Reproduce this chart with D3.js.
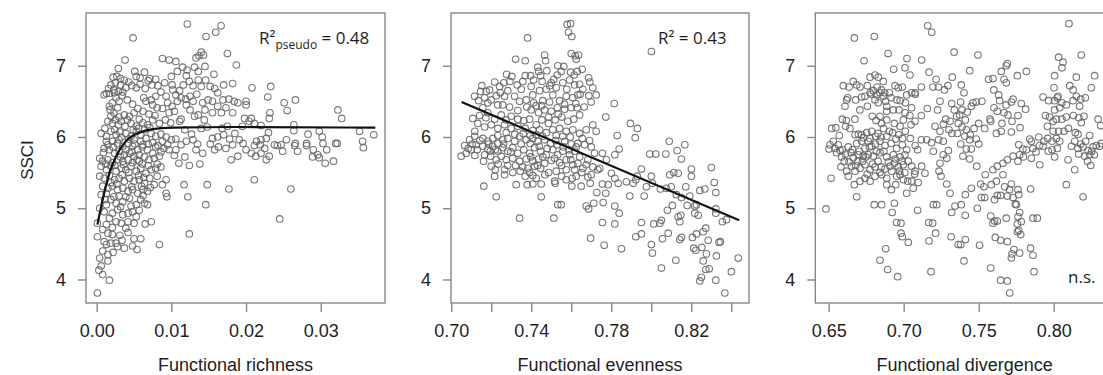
<!DOCTYPE html>
<html><head><meta charset="utf-8">
<script src="https://cdn.jsdelivr.net/npm/d3@7"></script>
<style>body{margin:0;background:#fff;} svg{display:block;}</style>
</head><body><svg id="c" width="1103" height="375"></svg>
<script>
// ---------- DATA ----------
const yTicks = [4, 5, 6, 7];
const yLabel = "SSCI";
const richTicks = [0.00, 0.01, 0.02, 0.03];
const richLabels = [0.00, 0.01, 0.02, 0.03];
const evenTicks = [0.70, 0.72, 0.74, 0.76, 0.78, 0.80, 0.82, 0.84];
const evenLabels = [0.70, 0.74, 0.78, 0.82];
const divTicks = [0.65, 0.70, 0.75, 0.80];
const divLabels = [0.65, 0.70, 0.75, 0.80];
const titles = ["Functional richness", "Functional evenness", "Functional divergence"];

const richFitX = [0.0001, 0.0008, 0.0017, 0.0026, 0.0039, 0.0057, 0.0075, 0.0102, 0.0187, 0.0373];
const richFitY = [4.77, 5.12, 5.49, 5.73, 5.94, 6.06, 6.11, 6.13, 6.14, 6.13];
const evenFitX = [0.7052, 0.844];
const evenFitY = [6.49, 4.83];

const richPts = [
[0.01214,7.585],[0.01665,7.56],[0.01594,7.47],[0.01464,7.41],[0.00487,7.39],
[0.0140,7.19],[0.0137,7.14],[0.0143,7.15],[0.0133,7.11],[0.0175,7.17],
[0.0038,7.08],[0.0088,7.10],[0.0097,7.08],[0.0106,7.06],
[0.0115,6.98],[0.0121,6.94],[0.0131,6.98],[0.0145,6.99],[0.0157,6.88],[0.0187,7.01],
[0.0029,6.96],[0.0022,6.84],[0.0027,6.85],[0.0032,6.82],[0.0037,6.80],[0.0043,6.77],[0.0051,6.92],[0.0053,6.85],[0.0058,6.83],[0.0064,6.91],[0.0071,6.82],[0.0079,6.81],[0.0082,6.72],[0.0074,6.73],[0.0058,6.74],[0.0053,6.69],[0.0047,6.72],[0.0039,6.69],[0.0032,6.73],[0.0025,6.76],[0.0019,6.73],[0.0013,6.61],[0.001,6.59],[0.0017,6.61],[0.0024,6.62],[0.0029,6.64],[0.0035,6.63],[0.01,6.85],[0.0101,6.73],[0.0111,6.65],[0.012,6.86],[0.0116,6.73],[0.0124,6.78],[0.0129,6.72],[0.0136,6.8],[0.014,6.71],[0.0146,6.8],[0.0152,6.71],[0.0158,6.68],[0.017,6.73],[0.0182,6.75],[0.0091,6.76],[0.0086,6.63],[0.0106,6.59],
[0.0026,6.55],[0.003,6.5],[0.0021,6.48],[0.0017,6.43],[0.0028,6.41],[0.0023,6.34],[0.0019,6.29],[0.003,6.28],[0.0037,6.31],[0.0044,6.29],[0.005,6.34],[0.0057,6.25],[0.0063,6.55],[0.0066,6.5],[0.0073,6.52],[0.0079,6.57],[0.0075,6.45],[0.0081,6.41],[0.0088,6.4],[0.0095,6.48],[0.0101,6.43],[0.0104,6.36],[0.0108,6.5],[0.0113,6.55],[0.0119,6.53],[0.0125,6.57],[0.0129,6.5],[0.012,6.45],[0.0125,6.38],[0.0131,6.29],[0.0136,6.31],[0.0142,6.48],[0.0149,6.52],[0.0155,6.5],[0.0162,6.43],[0.0169,6.52],[0.0177,6.53],[0.0184,6.5],[0.0167,6.34],[0.0173,6.41],[0.0155,6.34],[0.0144,6.24],[0.0092,6.24],[0.0084,6.19],[0.0075,6.24],[0.0068,6.17],[0.0062,6.2],[0.0053,6.15],[0.0046,6.19],[0.0038,6.15],[0.0029,6.17],[0.0021,6.19],[0.0015,6.22],[0.0097,6.34],[0.0113,6.25],[0.0182,6.34],[0.0175,6.15],
[0.0006,6.05],[0.0013,6.01],[0.0019,6.08],[0.0026,6.03],[0.0033,6.0],[0.0039,6.05],[0.0046,6.01],[0.0053,6.08],[0.0059,6.03],[0.0066,5.98],[0.0073,6.05],[0.0079,6.01],[0.0086,6.04],[0.0093,6.0],[0.01,5.96],[0.0106,5.97],[0.0113,5.89],[0.012,5.94],[0.0129,5.96],[0.0135,5.9],[0.014,6.12],[0.0155,5.98],[0.0162,6.0],[0.017,6.03],[0.0178,5.97],[0.0158,5.82],[0.0173,5.84],[0.0182,5.89],[0.0133,5.82],[0.0142,5.77],[0.0106,5.82],[0.0097,5.82],[0.009,5.84],[0.0082,5.88],[0.0075,5.77],[0.0068,5.82],[0.0062,5.89],[0.0055,5.82],[0.0048,5.87],[0.0042,5.91],[0.0035,5.87],[0.0028,5.91],[0.0021,5.94],[0.0015,5.89],[0.001,5.84],[0.0017,5.82],[0.0024,5.77],[0.003,5.8],[0.0037,5.75],[0.0044,5.77],[0.005,5.73],[0.0057,5.75],[0.0064,5.72],[0.007,5.68],[0.0077,5.7],[0.0084,5.73],[0.0004,5.7],[0.0008,5.66],[0.0015,5.68],[0.0021,5.64],[0.0028,5.68],[0.0035,5.66],[0.0042,5.68],[0.0048,5.64],[0.011,5.63],[0.0124,5.6],[0.0138,5.62],[0.018,5.68],[0.0013,5.94],[0.003,5.96],[0.005,5.96],[0.0059,5.94],[0.0075,5.92],[0.0088,5.94],[0.0095,5.89],[0.0039,5.82],[0.0057,5.66],
[0.0006,5.59],[0.0013,5.54],[0.0019,5.59],[0.0026,5.52],[0.0033,5.56],[0.0039,5.54],[0.0046,5.59],[0.0053,5.52],[0.0059,5.56],[0.0066,5.49],[0.0073,5.54],[0.0079,5.56],[0.0086,5.58],[0.0004,5.45],[0.001,5.42],[0.0017,5.46],[0.0024,5.4],[0.003,5.42],[0.0037,5.38],[0.0044,5.42],[0.005,5.38],[0.0057,5.4],[0.0064,5.35],[0.0071,5.42],[0.0077,5.33],[0.0088,5.33],[0.0093,5.4],[0.0117,5.33],[0.0148,5.33],[0.0177,5.27],[0.0008,5.31],[0.0015,5.28],[0.0021,5.31],[0.0028,5.26],[0.0035,5.28],[0.0042,5.24],[0.0048,5.26],[0.0055,5.21],[0.0062,5.26],[0.0068,5.24],[0.0093,5.21],[0.0094,5.16],[0.0122,5.16],[0.0006,5.19],[0.0013,5.21],[0.003,5.17],[0.0039,5.16],
[0.0019,5.12],[0.0026,5.07],[0.0013,5.05],[0.0035,5.09],[0.0044,5.14],[0.0053,5.05],[0.0059,5.12],[0.0064,5.07],[0.0068,5.05],[0.0146,5.05],[0.0004,5.0],[0.001,4.95],[0.0021,4.93],[0.0028,4.98],[0.0035,4.91],[0.0042,4.93],[0.0048,4.95],[0.0053,4.88],[0.0017,4.86],[0.0026,4.81],[0.0033,4.79],[0.0042,4.81],[0.005,4.79],[0.0065,4.78],[0.0073,4.81],[0.0013,4.77],[0.0001,4.79],[0.0008,4.7],
[0.0015,4.65],[0.0001,4.6],[0.0021,4.63],[0.001,4.53],[0.0019,4.51],[0.0028,4.46],[0.0026,4.51],[0.0042,4.66],[0.005,4.57],[0.0059,4.57],[0.0037,4.44],[0.0048,4.47],[0.0054,4.42],[0.0084,4.49],[0.0124,4.64],[0.0004,4.3],[0.0015,4.26],[0.0006,4.19],[0.0003,4.13],[0.0008,4.07],[0.0017,3.99],[0.0015,4.35],[0.0001,3.81],[0.0013,4.49],
[0.0208,6.69],[0.0233,6.71],[0.0229,6.56],[0.02,6.5],[0.02,6.45],[0.0189,6.48],[0.0251,6.48],[0.0266,6.52],[0.0255,6.37],[0.0232,6.34],[0.0231,6.26],[0.0323,6.38],[0.0328,6.26],[0.0198,6.26],[0.0207,6.26],[0.0204,6.22],[0.0211,6.19],[0.022,6.16],[0.0195,6.15],[0.0264,6.17],[0.0264,6.09],[0.023,6.06],[0.0283,6.04],[0.0298,6.08],[0.0302,6.0],[0.0303,5.91],[0.0352,6.08],[0.0356,5.94],[0.0357,5.85],[0.0371,6.03],[0.0191,5.96],[0.0214,5.94],[0.022,5.96],[0.0227,5.98],[0.0211,5.88],[0.0219,5.89],[0.0225,5.84],[0.02,5.82],[0.0207,5.77],[0.0213,5.73],[0.022,5.77],[0.0227,5.68],[0.0231,5.73],[0.0238,5.89],[0.0242,5.88],[0.0247,5.89],[0.0249,5.8],[0.0254,5.96],[0.0266,5.91],[0.0269,5.8],[0.0265,5.88],[0.0281,5.91],[0.0281,5.88],[0.029,5.82],[0.0289,5.72],[0.0296,5.75],[0.0298,5.71],[0.0306,5.63],[0.0308,5.82],[0.0317,5.66],[0.032,5.91],[0.0322,5.91],[0.0211,5.4],[0.026,5.27],[0.0245,4.85],[0.0189,5.73],[0.0196,5.91],
[0.0016,6.68],[0.0023,6.66],[0.0034,6.58],[0.0041,6.52],[0.0048,6.46],[0.0055,6.4],[0.0062,6.36],[0.007,6.32],[0.0078,6.3],[0.0018,6.38],[0.0025,6.24],[0.0033,6.22],[0.0041,6.24],[0.0049,6.1],[0.0056,6.12],[0.0064,6.1],[0.0071,6.13],[0.0024,6.1],[0.0011,6.12],[0.0031,6.07],[0.0043,5.97],[0.0051,5.9],[0.0061,5.86],[0.0069,5.9],[0.0079,5.86],[0.0086,5.79],[0.0009,5.78],[0.0022,5.86],[0.0032,5.72],[0.0047,5.79],[0.0054,5.68],[0.0061,5.62],[0.0069,5.6],[0.0081,5.62],[0.0012,5.62],[0.0024,5.6],[0.0036,5.61],[0.0043,5.5],[0.0056,5.46],[0.0063,5.43],[0.0081,5.45],[0.0019,5.36],[0.0027,5.34],[0.0034,5.47],[0.0047,5.3],[0.006,5.31],[0.0072,5.29],[0.0011,5.12],[0.0023,5.16],[0.0032,5.02],[0.0046,5.03],[0.0057,4.97],[0.0062,5.18],[0.0021,4.73],[0.0031,4.62],[0.0039,4.72],[0.0008,4.4],[0.0022,4.38],[0.0034,4.55],[0.0111,6.22],[0.0118,6.1],[0.0127,6.04],[0.0148,6.14],[0.0152,5.9],[0.0163,5.86],[0.0168,6.12],[0.0185,6.05],[0.0104,5.74],[0.0118,5.72],[0.0102,6.66],[0.0134,6.6],[0.0162,6.62],[0.0145,6.38],[0.0108,6.92],[0.0136,6.92],[0.0065,6.68],[0.0069,6.79],[0.0093,6.57],[0.0099,6.2]
];

const evenPts = [
[0.758,7.58],[0.7597,7.59],[0.7587,7.47],[0.7603,7.41],[0.7382,7.39],
[0.76,7.17],[0.762,7.14],[0.7637,7.15],[0.7625,7.09],[0.7467,7.15],[0.7472,7.07],[0.7322,7.09],[0.737,7.07],[0.7433,6.98],[0.7437,6.92],[0.7447,6.86],[0.7533,7.0],[0.7563,6.99],[0.755,6.92],[0.753,6.87],[0.7597,6.91],[0.763,6.92],[0.7655,6.95],[0.7687,6.83],[0.7693,6.77],[0.7708,6.69],[0.7725,6.59],[0.77,6.49],
[0.7303,6.85],[0.7293,6.78],[0.7263,6.76],[0.7242,6.71],[0.7217,6.77],[0.7192,6.66],[0.7153,6.72],[0.7175,6.64],[0.7147,6.64],[0.7117,6.57],[0.7137,6.51],[0.7167,6.55],[0.72,6.52],[0.7233,6.45],[0.7267,6.57],[0.7283,6.65],[0.733,6.73],[0.7358,6.78],[0.737,6.86],[0.7397,6.86],[0.74,6.71],[0.735,6.67],[0.7317,6.57],[0.7342,6.5],[0.7375,6.52],[0.7408,6.59],[0.7442,6.65],[0.7475,6.67],[0.75,6.76],[0.7525,6.69],[0.7558,6.76],[0.7592,6.8],[0.7617,6.73],[0.7642,6.74],[0.7658,6.67],[0.7633,6.59],[0.7608,6.55],[0.7575,6.57],[0.7542,6.51],[0.7508,6.59],[0.7492,6.49],[0.7458,6.51],[0.7425,6.44],[0.74,6.38],[0.7437,6.34],[0.7467,6.38],[0.75,6.36],[0.753,6.41],[0.7567,6.39],[0.76,6.41],[0.763,6.41],[0.7642,6.31],[0.7613,6.25],[0.7583,6.22],[0.7553,6.28],[0.752,6.24],[0.7487,6.19],[0.7453,6.24],[0.7425,6.17],[0.7392,6.25],[0.7363,6.23],[0.7333,6.25],[0.73,6.29],[0.7275,6.24],[0.725,6.31],[0.7217,6.25],[0.7183,6.34],[0.7158,6.41],[0.7133,6.19],[0.7167,6.14],[0.72,6.17],[0.7233,6.12],[0.7267,6.17],[0.73,6.12],[0.7333,6.15],[0.737,6.12],[0.7408,6.09],[0.7442,6.1],[0.7475,6.06],[0.7508,6.1],[0.7542,6.12],[0.7575,6.08],[0.7608,6.1],[0.7642,6.05],[0.7675,6.1],[0.7708,6.17],[0.7725,6.08],
[0.7092,5.96],[0.7117,6.01],[0.7067,5.88],[0.705,5.73],[0.7075,5.77],[0.71,5.82],[0.713,5.82],[0.7125,5.89],[0.7158,5.98],[0.7183,5.94],[0.7208,5.98],[0.7233,5.91],[0.7258,5.96],[0.7283,5.98],[0.7317,5.94],[0.7342,6.01],[0.7375,5.96],[0.7408,5.98],[0.7433,5.94],[0.7467,5.96],[0.7497,5.91],[0.753,5.89],[0.7567,5.94],[0.76,5.9],[0.7633,5.91],[0.7667,5.89],[0.77,5.86],[0.7717,5.77],[0.7158,5.87],[0.7183,5.83],[0.7208,5.87],[0.7233,5.8],[0.7258,5.85],[0.7283,5.8],[0.7308,5.85],[0.7333,5.77],[0.7363,5.82],[0.7392,5.77],[0.7417,5.85],[0.7447,5.8],[0.7475,5.75],[0.7508,5.82],[0.7533,5.75],[0.7558,5.8],[0.7592,5.75],[0.7617,5.8],[0.7642,5.72],[0.7683,5.68],[0.7167,5.75],[0.7197,5.73],[0.7225,5.68],[0.725,5.73],[0.7275,5.68],[0.7308,5.7],[0.7342,5.66],[0.7375,5.69],[0.7408,5.66],[0.7437,5.69],[0.7467,5.63],[0.75,5.67],[0.7542,5.64],[0.7575,5.68],[0.7608,5.61],[0.7633,5.63],[0.7675,5.61],[0.7708,5.58],[0.7733,5.54],[0.72,5.59],[0.722,5.54],[0.7267,5.54],[0.7308,5.5],[0.7383,5.56],[0.7417,5.59],[0.7447,5.56],[0.7487,5.5],[0.7525,5.52],[0.7575,5.54],[0.7617,5.54],[0.7653,5.5],[0.7217,5.45],[0.7267,5.47],[0.737,5.45],[0.7408,5.46],[0.7425,5.42],[0.7517,5.38],[0.7575,5.4],[0.7625,5.45],[0.7683,5.44],[0.77,5.47],[0.7163,5.31],[0.7325,5.33],[0.738,5.33],[0.7408,5.34],[0.745,5.34],[0.752,5.35],[0.7603,5.31],[0.765,5.31],[0.7225,5.16],[0.745,5.16],[0.7533,5.05],[0.755,5.05],[0.7675,5.03],[0.7687,4.99],[0.7713,5.07],[0.7342,4.86],[0.7513,4.86],[0.7697,4.58],
[0.8001,7.2],[0.7815,6.47],[0.7773,6.28],[0.7896,6.19],[0.7931,6.12],[0.792,5.99],[0.783,6.02],[0.784,5.83],[0.7818,5.75],[0.7756,5.77],[0.7776,5.68],[0.7993,5.76],[0.8023,5.76],[0.8073,5.76],[0.809,5.94],[0.813,5.81],[0.8168,5.89],[0.8151,5.69],[0.7951,5.55],[0.7801,5.49],[0.7818,5.42],[0.7743,5.56],[0.7756,5.34],[0.7785,5.33],[0.7773,5.21],[0.7835,5.35],[0.7876,5.37],[0.791,5.35],[0.7923,5.4],[0.7893,5.17],[0.7965,5.17],[0.793,5.45],[0.8001,5.45],[0.8006,5.35],[0.7976,5.3],[0.8046,5.27],[0.8076,5.28],[0.81,5.3],[0.8126,5.19],[0.8151,5.15],[0.8135,5.49],[0.8093,5.47],[0.8113,5.5],[0.8201,5.55],[0.8201,5.45],[0.8173,5.3],[0.8193,5.17],[0.8226,5.05],[0.8243,5.25],[0.8268,5.27],[0.8301,5.57],[0.8315,5.36],[0.8323,5.22],[0.776,5.08],[0.7818,5.03],[0.784,4.93],[0.7756,4.8],[0.7818,4.78],[0.7951,4.8],[0.8013,4.78],[0.8051,4.83],[0.8043,4.79],[0.8081,4.97],[0.8135,4.88],[0.8143,4.81],[0.8106,5.04],[0.8148,4.9],[0.818,5.04],[0.8218,5.03],[0.8218,4.93],[0.8235,4.9],[0.8323,4.93],[0.8356,4.81],[0.8376,4.84],[0.8323,4.99],[0.7923,4.6],[0.7951,4.64],[0.8001,4.49],[0.8006,4.37],[0.8056,4.57],[0.8085,4.65],[0.8143,4.56],[0.8151,4.59],[0.8206,4.59],[0.8226,4.64],[0.826,4.67],[0.8273,4.72],[0.8285,4.55],[0.8223,4.41],[0.8213,4.44],[0.8253,4.45],[0.8276,4.36],[0.826,4.26],[0.8273,4.14],[0.829,4.15],[0.8243,3.98],[0.8251,4.03],[0.8326,4.33],[0.8339,4.52],[0.8346,4.53],[0.7851,4.43],[0.7765,4.48],[0.8123,4.27],[0.8051,4.16],[0.8323,3.99],[0.8401,4.11],[0.8435,4.3],[0.8368,3.81],
[0.7105,5.9],[0.7143,5.95],[0.7188,5.9],[0.722,5.82],[0.7262,5.9],[0.7298,5.79],[0.735,5.9],[0.7395,5.91],[0.744,5.87],[0.748,5.84],[0.7522,5.95],[0.756,5.86],[0.759,5.82],[0.7625,5.86],[0.7118,5.74],[0.7162,5.66],[0.7195,5.8],[0.7235,5.62],[0.7282,5.6],[0.7322,5.6],[0.7358,5.58],[0.7398,5.72],[0.7432,5.6],[0.7458,5.72],[0.7517,5.7],[0.7552,5.6],[0.7598,5.68],[0.7658,5.56],[0.7233,6.02],[0.7275,6.06],[0.7318,6.04],[0.736,6.05],[0.7395,6.02],[0.7425,6.03],[0.7457,6.01],[0.7525,6.02],[0.7558,6.01],[0.7595,6.0],[0.7655,5.98],[0.7692,5.95],[0.7183,6.48],[0.7225,6.58],[0.7258,6.45],[0.7292,6.42],[0.7333,6.37],[0.7378,6.42],[0.7412,6.48],[0.7452,6.44],[0.7487,6.28],[0.7535,6.32],[0.7567,6.46],[0.7623,6.47],[0.7665,6.42],[0.7645,6.6],[0.7688,6.58],[0.7578,6.67],[0.7493,6.72],[0.7455,6.78],[0.7412,6.8],[0.7277,6.88],[0.7245,6.62],[0.7173,6.27],[0.7142,6.3],[0.7108,6.26],[0.7118,6.08],[0.7085,5.84],[0.7392,5.5],[0.7345,5.52],[0.7468,5.47],[0.7552,5.45],[0.7605,5.42],[0.7695,5.35],[0.7728,5.22],[0.7478,6.93],[0.7513,6.81],[0.7615,6.87]
];

const divPts = [
[0.716,7.56],[0.7187,7.47],[0.6671,7.39],[0.6804,7.41],[0.7336,7.19],[0.6896,7.17],[0.6736,7.07],[0.7022,7.1],[0.712,7.08],[0.6933,6.95],[0.7009,6.97],[0.7042,6.87],[0.7169,6.91],[0.7324,6.84],[0.7216,6.81],[0.6776,6.84],[0.6809,6.87],[0.6831,6.84],[0.6864,6.78],[0.6664,6.78],[0.6687,6.73],[0.6709,6.7],[0.6598,6.72],[0.6636,6.7],[0.6627,6.55],[0.662,6.52],[0.668,6.52],[0.672,6.56],[0.6742,6.57],[0.6776,6.62],[0.6798,6.65],[0.682,6.59],[0.6842,6.62],[0.6864,6.57],[0.6809,6.52],[0.6831,6.48],[0.688,6.5],[0.6887,6.43],[0.6887,6.36],[0.6942,6.72],[0.6964,6.69],[0.6991,6.7],[0.702,6.59],[0.7053,6.62],[0.7076,6.62],[0.6976,6.51],[0.6916,6.55],[0.6931,6.38],[0.6969,6.38],[0.7009,6.34],[0.7053,6.41],[0.6998,6.24],[0.7049,6.17],[0.7076,6.22],[0.6976,6.15],[0.6938,6.19],[0.6887,6.24],[0.6842,6.29],[0.6791,6.29],[0.6816,6.23],[0.6853,6.19],[0.6609,6.43],[0.6591,6.25],[0.6613,6.15],[0.6642,6.12],[0.6676,6.03],[0.672,6.03],[0.6753,6.06],[0.6787,6.08],[0.6813,6.01],[0.6849,6.0],[0.6887,6.01],[0.6927,6.06],[0.6967,6.03],[0.7011,6.08],[0.7044,5.98],[0.7093,5.82],[0.7153,5.96],[0.7198,5.8],[0.7209,6.15],[0.7242,6.08],[0.7264,5.94],[0.7302,6.1],[0.7309,6.22],[0.732,6.47],[0.7338,6.38],[0.7353,6.29],[0.7364,6.19],[0.7242,6.5],[0.728,6.25],[0.7298,5.81],[0.7264,5.75],[0.7287,5.7],[0.7242,5.63],[0.7236,5.52],[0.7249,5.45],[0.7287,5.34],[0.7309,5.21],
[0.652,6.12],[0.6509,5.89],[0.6502,5.83],[0.6531,5.94],[0.6542,5.84],[0.6564,5.89],[0.6576,5.81],[0.6553,5.78],[0.6587,5.72],[0.6604,5.66],[0.6582,5.58],[0.662,5.52],[0.6631,5.86],[0.6649,5.78],[0.6664,5.71],[0.6693,5.66],[0.6687,5.91],[0.672,5.94],[0.6742,5.84],[0.6764,5.94],[0.6787,5.87],[0.6813,5.9],[0.6842,5.94],[0.6876,5.88],[0.6916,5.91],[0.6953,5.84],[0.6991,5.89],[0.702,5.82],[0.6698,5.75],[0.6731,5.73],[0.6764,5.75],[0.6798,5.73],[0.6842,5.78],[0.6887,5.72],[0.6931,5.75],[0.6976,5.72],[0.7009,5.75],[0.6653,5.59],[0.6676,5.52],[0.6709,5.56],[0.6742,5.61],[0.6776,5.54],[0.6809,5.58],[0.6842,5.5],[0.6876,5.55],[0.6909,5.59],[0.6938,5.63],[0.6964,5.58],[0.6998,5.61],[0.7031,5.66],[0.7053,5.59],[0.7076,5.52],[0.712,5.59],[0.7142,5.49],[0.6631,5.45],[0.6671,5.33],[0.6709,5.38],[0.6742,5.42],[0.6776,5.38],[0.6809,5.45],[0.6853,5.47],[0.6887,5.33],[0.6918,5.26],[0.6953,5.45],[0.6976,5.47],[0.6998,5.4],[0.7027,5.38],[0.7053,5.38],[0.7064,5.28],[0.702,5.21],[0.6516,5.42],[0.6687,5.16],[0.6482,4.99],[0.6804,5.05],[0.6853,5.05],[0.6938,5.07],[0.6924,4.94],[0.7093,4.97],[0.7198,5.05],[0.722,5.05],[0.732,4.94],[0.7342,5.03],[0.6953,4.8],[0.6982,4.79],[0.7167,4.8],[0.7193,4.79],[0.6982,4.65],[0.6991,4.6],[0.7031,4.52],[0.7213,4.65],[0.7169,4.54],[0.7316,4.6],[0.7364,4.49],[0.688,4.43],[0.6842,4.27],[0.6893,4.14],[0.696,4.04],[0.7182,4.11],
[0.8102,7.59],[0.7495,7.15],[0.8184,7.15],[0.8033,7.12],[0.8062,7.05],[0.8055,6.97],[0.8151,6.84],[0.8273,6.86],[0.8251,6.69],[0.8006,6.86],[0.744,6.93],[0.7684,7.0],[0.7691,7.03],[0.7651,6.92],[0.7669,6.81],[0.7684,6.76],[0.7758,6.86],[0.7818,6.92],[0.7566,6.81],[0.7595,6.82],[0.7633,6.59],[0.764,6.51],[0.7602,6.41],[0.7669,6.34],[0.7718,6.49],[0.7729,6.53],[0.7695,6.31],[0.7722,6.22],[0.7655,6.19],[0.7651,6.08],[0.7784,6.47],[0.7813,6.39],[0.7762,6.3],[0.7575,6.25],[0.758,6.22],[0.754,6.12],[0.75,6.19],[0.7469,6.12],[0.7384,6.73],[0.7402,6.62],[0.738,6.49],[0.7389,6.38],[0.7373,6.31],[0.7411,6.24],[0.7389,6.14],[0.7418,6.1],[0.7407,6.01],[0.738,5.9],[0.7418,5.83],[0.7451,5.83],[0.7395,5.73],[0.744,5.69],[0.7462,6.48],[0.7484,6.49],[0.7522,6.5],[0.7424,6.35],[0.7451,6.43],[0.744,5.96],[0.7484,5.97],[0.7444,6.03],[0.75,5.9],
[0.7929,6.56],[0.7966,6.51],[0.8006,6.51],[0.8029,6.57],[0.8002,6.69],[0.8024,6.55],[0.8055,6.48],[0.8084,6.45],[0.8107,6.72],[0.8129,6.66],[0.8129,6.51],[0.8151,6.57],[0.818,6.53],[0.8211,6.55],[0.8173,6.43],[0.8202,6.29],[0.8184,6.2],[0.8144,6.06],[0.8162,6.04],[0.804,6.41],[0.8006,6.38],[0.7973,6.28],[0.8018,6.25],[0.8055,6.25],[0.8084,6.28],[0.7958,6.15],[0.7996,6.08],[0.8033,6.08],[0.8069,6.08],[0.796,5.98],[0.7935,5.94],[0.7989,5.94],[0.8018,5.98],[0.804,5.94],[0.7929,5.87],[0.7989,5.82],[0.8024,5.84],[0.7907,5.61],[0.79,6.0],[0.784,5.97],[0.7851,5.94],[0.7767,5.89],[0.7795,5.83],[0.7818,5.82],[0.7862,5.84],[0.7851,5.7],[0.7773,5.75],[0.7729,5.73],[0.7762,5.66],[0.7691,5.68],[0.7662,5.63],[0.7624,5.59],[0.7595,5.54],[0.7544,5.47],[0.7513,5.34],[0.7535,5.3],[0.7584,5.33],[0.7618,5.38],[0.7662,5.47],[0.7673,5.3],[0.7706,5.26],[0.7718,5.34],[0.7691,5.17],[0.7729,5.15],[0.7647,5.18],[0.7624,5.18],[0.7606,5.12],[0.754,5.15],[0.7518,5.15],[0.7491,5.0],[0.7451,5.28],[0.7411,5.19],[0.7384,5.05],[0.7411,4.9],[0.7762,5.26],[0.7767,5.19],[0.7846,5.27],[0.7751,5.05],[0.7744,5.06],[0.7773,4.94],[0.7762,4.88],[0.7784,4.81],[0.7758,4.78],[0.7767,4.69],[0.778,4.63],[0.7758,4.67],[0.7684,4.86],[0.7624,4.82],[0.7595,4.79],[0.758,4.89],[0.7606,4.82],[0.7862,4.86],[0.7891,4.86],[0.7411,4.56],[0.738,4.49],[0.7506,4.48],[0.7611,4.59],[0.7646,4.55],[0.7691,4.53],[0.7735,4.42],[0.7722,4.36],[0.7773,4.37],[0.7718,4.3],[0.7846,4.44],[0.7862,4.34],[0.7869,4.11],[0.758,4.16],[0.7402,4.26],[0.7646,3.99],[0.7691,3.98],[0.7707,3.81],
[0.818,5.9],[0.8196,5.86],[0.8162,5.84],[0.8229,5.81],[0.8207,5.73],[0.8247,5.6],[0.824,5.75],[0.8262,5.86],[0.8284,5.88],[0.8307,5.87],[0.8318,5.91],[0.814,5.54],[0.8096,5.68],[0.8084,5.33],[0.8196,5.16],[0.824,6.02],[0.8296,6.25],[0.8313,6.16],[0.814,5.94],[0.8118,5.87],
[0.6592,5.82],[0.6612,5.76],[0.6636,5.65],[0.6658,5.82],[0.6681,5.6],[0.6704,5.8],[0.6726,5.66],[0.6748,5.72],[0.6757,5.48],[0.6772,5.86],[0.6794,5.62],[0.6818,5.8],[0.6829,5.66],[0.6851,5.58],[0.6868,5.8],[0.6898,5.65],[0.6921,5.52],[0.6945,5.69],[0.6972,5.52],[0.6989,5.66],[0.7008,5.5],[0.6698,6.04],[0.6732,5.99],[0.6775,5.98],[0.6829,6.05],[0.6866,6.12],[0.6905,6.08],[0.6948,5.97],[0.6992,5.98],[0.6675,6.25],[0.6708,6.38],[0.6758,6.43],[0.6783,6.6],[0.6823,6.7],[0.6852,6.66],[0.6873,6.62],[0.6758,6.72],[0.6905,6.62],[0.6955,6.52],[0.7012,6.48],[0.7041,6.3],[0.7118,6.3],[0.7158,6.4],[0.7226,6.38],[0.7272,6.66],[0.7295,6.72],[0.7232,6.7],[0.7195,6.7],[0.7118,6.7],[0.7077,6.6],[0.7265,6.18],[0.7322,6.05],[0.7358,6.05],[0.7233,5.96],[0.7186,5.92],[0.7118,5.96],[0.7077,5.88],[0.6887,5.42],[0.6947,5.33],[0.7073,5.48],[0.7097,5.36],[0.6571,6.02],[0.6548,6.13],[0.6618,6.23],[0.7945,6.3],[0.7996,6.22],[0.8131,6.3],[0.8168,6.27],[0.8098,6.12],[0.8213,5.94],[0.8253,5.8],[0.8271,5.75],[0.8167,5.76],[0.8226,5.66],[0.7882,5.79],[0.7798,5.72],[0.7906,5.88],[0.7964,5.8],[0.8006,5.72],[0.7624,6.36],[0.7683,6.45],[0.7718,6.07],[0.7776,6.13],[0.7601,6.66],[0.7618,6.05],[0.7487,5.59]
];

// ---------- LAYOUT ----------
const svg = d3.select("#c");
const plotTop = 13, plotBottom = 303;
const y = d3.scaleLinear().domain([3.67, 7.74]).range([plotBottom, plotTop]);
const font = "'Liberation Sans', Arial, sans-serif";
const annFont = "'Open Sans', 'Noto Sans', sans-serif";
const boxCol = "#888", ptCol = "#606060", txtCol = "#1e1e1e";

const panels = [
  {x0: 86, x1: 385, dom: [-0.00143, 0.0386], ticks: richTicks, labels: richLabels, pts: richPts, fx: richFitX, fy: richFitY, curve: d3.curveMonotoneX},
  {x0: 451, x1: 749, dom: [0.6999, 0.8489], ticks: evenTicks, labels: evenLabels, pts: evenPts, fx: evenFitX, fy: evenFitY, curve: d3.curveLinear},
  {x0: 815.3, x1: 1114, dom: [0.6411, 0.8402], ticks: divTicks, labels: divLabels, pts: divPts, fx: null}
];

panels.forEach((p, i) => {
  const x = d3.scaleLinear().domain(p.dom).range([p.x0, p.x1]);
  const g = svg.append("g");
  const clipId = "clip" + i;
  svg.append("clipPath").attr("id", clipId).append("rect")
    .attr("x", p.x0).attr("y", plotTop).attr("width", p.x1 - p.x0).attr("height", plotBottom - plotTop);

  g.append("g").attr("clip-path", `url(#${clipId})`).selectAll("circle").data(p.pts).enter().append("circle")
    .attr("cx", d => x(d[0])).attr("cy", d => y(d[1])).attr("r", 3.3)
    .attr("fill", "none").attr("stroke", ptCol).attr("stroke-width", 1.1).attr("stroke-opacity", 0.85);

  if (p.fx) {
    const line = d3.line().x(d => x(d[0])).y(d => y(d[1])).curve(p.curve);
    g.append("path").datum(p.fx.map((v, k) => [v, p.fy[k]]))
      .attr("d", line).attr("fill", "none").attr("stroke", "#111").attr("stroke-width", 2.2);
  }

  g.append("rect").attr("x", p.x0).attr("y", plotTop).attr("width", p.x1 - p.x0).attr("height", plotBottom - plotTop)
    .attr("fill", "none").attr("stroke", boxCol).attr("stroke-width", 1.4);

  const xa = d3.axisBottom(x).tickValues(p.ticks).tickSize(9).tickPadding(8)
    .tickFormat(v => p.labels.some(l => Math.abs(l - v) < 1e-9) ? d3.format(".2f")(v) : "");
  const gx = g.append("g").attr("transform", `translate(0,${plotBottom})`).call(xa);
  gx.select(".domain").remove();
  gx.selectAll(".tick line").attr("stroke", boxCol).attr("stroke-width", 1.4);
  gx.selectAll(".tick text").attr("font-family", font).attr("font-size", 18).attr("fill", txtCol).attr("dy", "0.95em");

  const ya = d3.axisLeft(y).tickValues(yTicks).tickSize(8).tickPadding(12).tickFormat(d3.format("d"));
  const gy = g.append("g").attr("transform", `translate(${p.x0},0)`).call(ya);
  gy.select(".domain").remove();
  gy.selectAll(".tick line").attr("stroke", boxCol).attr("stroke-width", 1.4);
  gy.selectAll(".tick text").attr("font-family", font).attr("font-size", 18).attr("fill", txtCol);

  g.append("text").attr("x", (p.x0 + p.x1) / 2).attr("y", 371)
    .attr("text-anchor", "middle").attr("font-family", font).attr("font-size", 18).attr("fill", txtCol)
    .text(titles[i]);
});

svg.append("text").attr("transform", "translate(33,160) rotate(-90)").attr("text-anchor", "middle")
  .attr("font-family", font).attr("font-size", 17).attr("fill", txtCol).text(yLabel);

const a1 = svg.append("text").attr("x", 259).attr("y", 44).attr("font-family", annFont).attr("font-size", 17).attr("fill", txtCol);
a1.append("tspan").text("R²");
a1.append("tspan").attr("font-size", 12).attr("dy", 5).text("pseudo");
a1.append("tspan").attr("dy", -5).text(" = 0.48");
svg.append("text").attr("x", 658).attr("y", 44).attr("font-family", annFont).attr("font-size", 17).attr("fill", txtCol).text("R² = 0.43");
svg.append("text").attr("x", 1068).attr("y", 283).attr("font-family", annFont).attr("font-size", 17).attr("fill", txtCol).text("n.s.");
</script>
</body></html>
